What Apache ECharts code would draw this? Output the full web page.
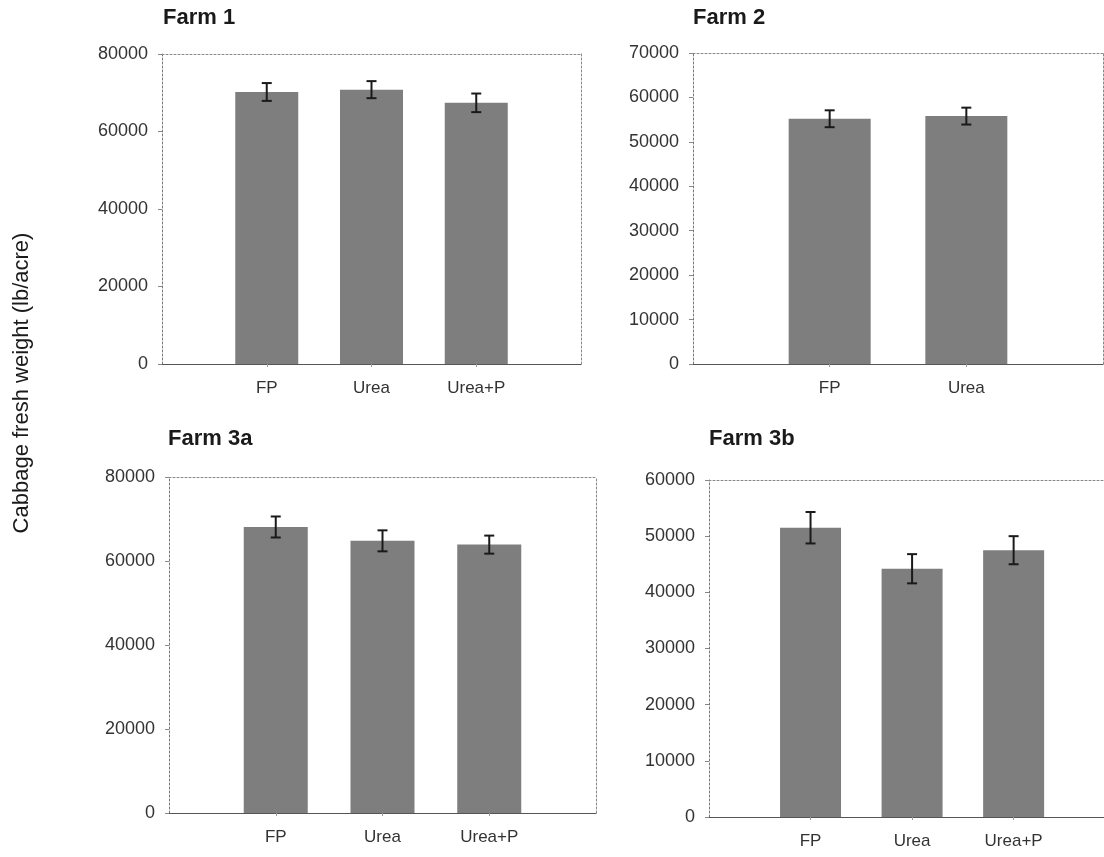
<!DOCTYPE html>
<html>
<head>
<meta charset="utf-8">
<script src="https://cdn.jsdelivr.net/npm/echarts@6/dist/echarts.min.js"></script>
<style>
html,body{margin:0;padding:0;background:#fff;}
#chart{width:1104px;height:857px;}
</style>
</head>
<body>
<div id="chart"></div>
<script>
// ---- data ----
const farm1Cats = ['FP', 'Urea', 'Urea+P'];
const farm1Means = [70200, 70800, 67400];
const farm1Errs = [2300, 2200, 2400];

const farm2Cats = ['FP', 'Urea'];
const farm2Means = [55200, 55800];
const farm2Errs = [1900, 1900];

const farm3aCats = ['FP', 'Urea', 'Urea+P'];
const farm3aMeans = [68100, 64800, 63900];
const farm3aErrs = [2500, 2500, 2150];

const farm3bCats = ['FP', 'Urea', 'Urea+P'];
const farm3bMeans = [51500, 44200, 47500];
const farm3bErrs = [2800, 2600, 2500];

const titles = ['Farm 1', 'Farm 2', 'Farm 3a', 'Farm 3b'];
const yMax = [80000, 70000, 80000, 60000];
const yStep = [20000, 10000, 20000, 10000];
const yTitle = 'Cabbage fresh weight (lb/acre)';

// ---- layout ----
// xSpan: visible x range in category-slot units (bars sit at 1, 2, 3; panel 3b is cut off at the right edge)
const panels = [
  {cats: farm1Cats, means: farm1Means, errs: farm1Errs, grid: {left: 162, top: 54, right: 523, bottom: 493}, xSpan: 4, rightBorder: true, title: {left: 163, top: 7}},
  {cats: farm2Cats, means: farm2Means, errs: farm2Errs, grid: {left: 693, top: 53, right: 1, bottom: 493}, xSpan: 3, rightBorder: true, title: {left: 693, top: 7}},
  {cats: farm3aCats, means: farm3aMeans, errs: farm3aErrs, grid: {left: 169, top: 477, right: 508, bottom: 44}, xSpan: 4, rightBorder: true, title: {left: 168, top: 428}},
  {cats: farm3bCats, means: farm3bMeans, errs: farm3bErrs, grid: {left: 709, top: 480, right: 0, bottom: 40}, xSpan: 3.89, rightBorder: false, title: {left: 709, top: 428}}
];

const FONT = '"Liberation Sans", Arial, Helvetica, sans-serif';
const BAR = '#7e7e7e';

const grid = [], xAxis = [], yAxis = [], series = [], title = [];

panels.forEach((p, k) => {
  grid.push(Object.assign({show: false, containLabel: false}, p.grid));
  title.push({
    text: titles[k], left: p.title.left, top: p.title.top, padding: 0,
    textStyle: {fontFamily: FONT, fontSize: 22, fontWeight: 'bold', color: '#1a1a1a'}
  });
  const pos = p.cats.map((c, i) => i + 1);
  const plotW = 1104 - p.grid.left - p.grid.right;
  const slotW = plotW / p.xSpan;
  // bottom axis (bars at slot positions 1..n)
  xAxis.push({
    type: 'value', gridIndex: k, min: 0, max: p.xSpan, interval: 1, position: 'bottom',
    axisLine: {show: true, onZero: false, lineStyle: {color: '#555', width: 1}},
    axisTick: {show: true, length: 3, inside: false, customValues: pos, lineStyle: {color: '#999'}},
    axisLabel: {show: true, margin: 16, fontFamily: FONT, fontSize: 17, color: '#333',
      customValues: pos, formatter: v => p.cats[Math.round(v) - 1] || ''},
    splitLine: {show: false}
  });
  // top border axis
  xAxis.push({
    type: 'value', gridIndex: k, position: 'top', min: 0, max: p.xSpan,
    axisLine: {show: true, onZero: false, lineStyle: {color: '#888', width: 1, type: [2, 2]}},
    axisTick: {show: false}, axisLabel: {show: false}, splitLine: {show: false}
  });
  yAxis.push({
    type: 'value', gridIndex: k, min: 0, max: yMax[k], interval: yStep[k], position: 'left',
    axisLine: {show: true, onZero: false, lineStyle: {color: '#777', width: 1, type: [2, 2]}},
    axisTick: {show: true, length: 4, lineStyle: {color: '#888'}},
    axisLabel: {margin: 14, fontFamily: FONT, fontSize: 18, color: '#333', formatter: v => String(v)},
    splitLine: {show: false}
  });
  yAxis.push({
    type: 'value', gridIndex: k, position: 'right', min: 0, max: yMax[k], interval: yStep[k],
    axisLine: {show: p.rightBorder, onZero: false, lineStyle: {color: '#888', width: 1, type: [2, 2]}},
    axisTick: {show: false}, axisLabel: {show: false}, splitLine: {show: false}
  });
  const barData = p.means.map((m, i) => [i + 1, m]);
  series.push({
    type: 'bar', xAxisIndex: 2 * k, yAxisIndex: 2 * k, data: barData,
    barWidth: Math.round(slotW * 0.6), itemStyle: {color: BAR}, silent: true, animation: false
  });
  const errData = p.means.map((m, i) => [i + 1, m, p.errs[i]]);
  series.push({
    type: 'custom', xAxisIndex: 2 * k, yAxisIndex: 2 * k, data: errData, silent: true, animation: false,
    z: 5,
    renderItem: function (params, api) {
      const xi = api.value(0), m = api.value(1), e = api.value(2);
      const top = api.coord([xi, m + e]);
      const bot = api.coord([xi, m - e]);
      const hw = 5;
      const st = {stroke: '#1a1a1a', lineWidth: 2};
      return {
        type: 'group',
        children: [
          {type: 'line', shape: {x1: top[0], y1: top[1], x2: bot[0], y2: bot[1]}, style: st},
          {type: 'line', shape: {x1: top[0] - hw, y1: top[1], x2: top[0] + hw, y2: top[1]}, style: st},
          {type: 'line', shape: {x1: bot[0] - hw, y1: bot[1], x2: bot[0] + hw, y2: bot[1]}, style: st}
        ]
      };
    }
  });
});

const chart = echarts.init(document.getElementById('chart'), null, {renderer: 'canvas'});
chart.setOption({
  animation: false,
  backgroundColor: '#ffffff',
  title: title,
  grid: grid,
  xAxis: xAxis,
  yAxis: yAxis,
  series: series,
  graphic: [{
    type: 'text', x: 22, y: 383, rotation: Math.PI / 2,
    style: {text: yTitle, fontFamily: FONT, fontSize: 22, fill: '#1a1a1a', align: 'center', verticalAlign: 'middle'}
  }]
});
</script>
</body>
</html>
